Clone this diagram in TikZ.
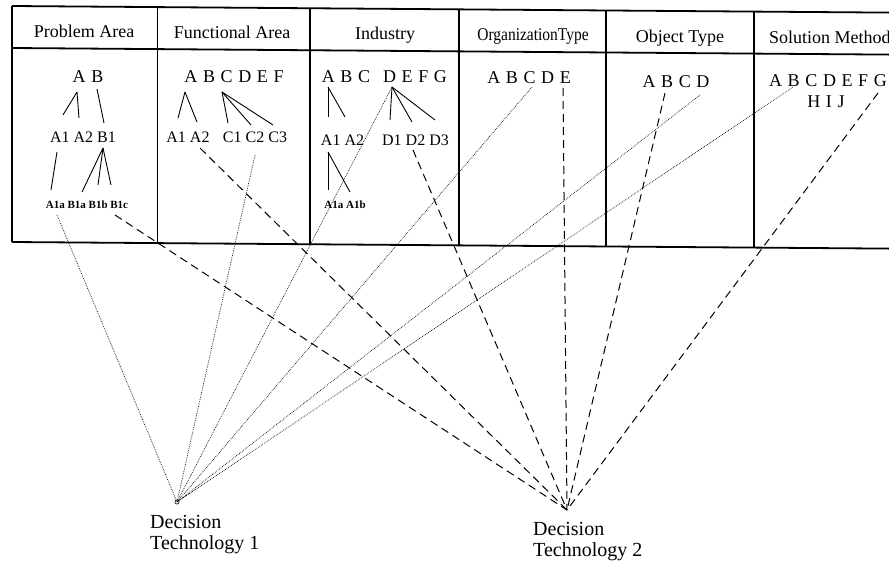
\documentclass[tikz,border=0pt]{standalone}
\usepackage{fontspec}
\usepackage{graphicx}
\setmainfont{Liberation Serif}
\newfontfamily\treefont[WordSpace=1.25]{Liberation Serif}
\begin{document}
\begin{tikzpicture}[x=1pt,y=-1pt,
  tbl/.style={line width=1.8pt},
  hdr/.style={font=\fontsize{18}{20}\selectfont, inner sep=0, anchor=base},
  lvl/.style={font=\treefont\fontsize{18}{20}\selectfont, inner sep=0, anchor=base},
  sublvl/.style={font=\fontsize{16}{18}\selectfont, inner sep=0, anchor=base},
  tinylvl/.style={font=\bfseries\fontsize{11}{12}\selectfont, inner sep=0, anchor=base},
  edge/.style={line width=0.9pt},
  dotline/.style={line width=0.7pt, dash pattern=on 0.7pt off 1.1pt},
  dashline/.style={line width=1pt, dash pattern=on 8pt off 5pt},
  dtlabel/.style={font=\fontsize{20}{21}\selectfont, inner sep=0, anchor=base west}]
\useasboundingbox (0,0) rectangle (889,560);

% table frame (slightly tilted as in the scan)
\draw[tbl] (12,6) -- (889,12.6);
\draw[tbl] (12,48) -- (889,54.6);
\draw[tbl] (12,242) -- (889,248.6);
\draw[tbl] (12,6) -- (12,242);
\draw[tbl] (157.5,7.1) -- (157.5,243.1);
\draw[tbl] (310,8.2) -- (310,244.2);
\draw[tbl] (459,9.4) -- (459,245.4);
\draw[tbl] (606,10.5) -- (606,246.5);
\draw[tbl] (754,11.6) -- (754,247.6);

% headers
\node[hdr] (h1) at (84,37.5) {Problem Area};
\node[hdr] (h2) at (232,38.6) {Functional Area};
\node[hdr] (h3) at (385,39.8) {Industry};
\node[hdr] (h4) at (533,40.9) {\scalebox{0.86}[1]{OrganizationType}};
\node[hdr] (h5) at (680,42) {Object Type};
\node[hdr, anchor=base west] (h6) at (769,43) {Solution Method};

% Problem Area tree
\node[lvl] (pa1) at (88,82) {A B};
\node[sublvl] (pa2) at (83,142) {A1 A2 B1};
\node[tinylvl] (pa3) at (87,208) {A1a B1a B1b B1c};
\coordinate (paA) at (77,92);  \coordinate (paB) at (97,89);
\coordinate (paA1) at (63,115); \coordinate (paA2) at (79,118); \coordinate (paB1) at (104,123);
\coordinate (paA1d) at (57,152); \coordinate (paB1d) at (103,148);
\coordinate (paA1a) at (51,190); \coordinate (paB1a) at (82,192);
\coordinate (paB1b) at (98,185); \coordinate (paB1c) at (111,185);
\draw[edge] (paA) -- (paA1);
\draw[edge] (paA) -- (paA2);
\draw[edge] (paB) -- (paB1);
\draw[edge] (paA1d) -- (paA1a);
\draw[edge] (paB1d) -- (paB1a);
\draw[edge] (paB1d) -- (paB1b);
\draw[edge] (paB1d) -- (paB1c);

% Functional Area tree
\node[lvl] (fa1) at (234,82) {A B C D E F};
\node[sublvl] (fa2) at (188,142) {A1 A2};
\node[sublvl] (fa3) at (255,142) {C1 C2 C3};
\coordinate (faA) at (185,92); \coordinate (faC) at (222,92);
\draw[edge] (faA) -- (178,118);
\draw[edge] (faA) -- (197,122);
\draw[edge] (faC) -- (228,123);
\draw[edge] (faC) -- (251,125);
\draw[edge] (faC) -- (273,125);

% Industry tree
\node[lvl] (in1) at (346,82) {A B C};
\node[lvl] (in2) at (415,82) {D E F G};
\node[sublvl] (in3) at (342.5,145) {A1 A2};
\node[sublvl] (in4) at (415.5,145) {D1 D2 D3};
\node[tinylvl] (in5) at (345,208) {A1a A1b};
\coordinate (inA) at (328,87); \coordinate (inD) at (392,87); \coordinate (inA1) at (328,152);
\draw[edge] (inA) -- (328,117);
\draw[edge] (inA) -- (345,117);
\draw[edge] (inD) -- (390,120);
\draw[edge] (inD) -- (412,122);
\draw[edge] (inD) -- (435,120);
\draw[edge] (inA1) -- (328,190);
\draw[edge] (inA1) -- (350,192);

% Organization Type
\node[lvl] (ot1) at (529,83) {A B C D E};
% Object Type
\node[lvl] (ob1) at (676,87) {A B C D};
% Solution Method
\node[lvl] (sm1) at (828,86) {A B C D E F G};
\node[lvl] (sm2) at (826,107) {H I J};

% decision technologies
\node[circle, draw, line width=0.6pt, inner sep=1.5pt] (dt1) at (177,502) {};
\coordinate (dt2) at (567,510);
\node[dtlabel] (dt1a) at (150,528) {Decision};
\node[dtlabel] (dt1b) at (150,549) {Technology 1};
\node[dtlabel] (dt2a) at (533,535) {Decision};
\node[dtlabel] (dt2b) at (533,556) {Technology 2};

% start points of the links
\coordinate (s1) at (57,215);
\coordinate (s2) at (255,155);
\coordinate (s3) at (392,87);
\coordinate (s4) at (532,87);
\coordinate (s5) at (700,95);
\coordinate (s6) at (793,87);
\coordinate (t1) at (115,215);
\coordinate (t2) at (200,148);
\coordinate (t3) at (413,150);
\coordinate (t4) at (563,88);
\coordinate (t5) at (665,93);
\coordinate (t6) at (878,93);

\foreach \s in {s1,s2,s3,s4,s5,s6} \draw[dotline] (\s) -- (dt1.center);
\foreach \t in {t1,t2,t3,t4,t5,t6} \draw[dashline] (\t) -- (dt2);
\end{tikzpicture}
\end{document}
